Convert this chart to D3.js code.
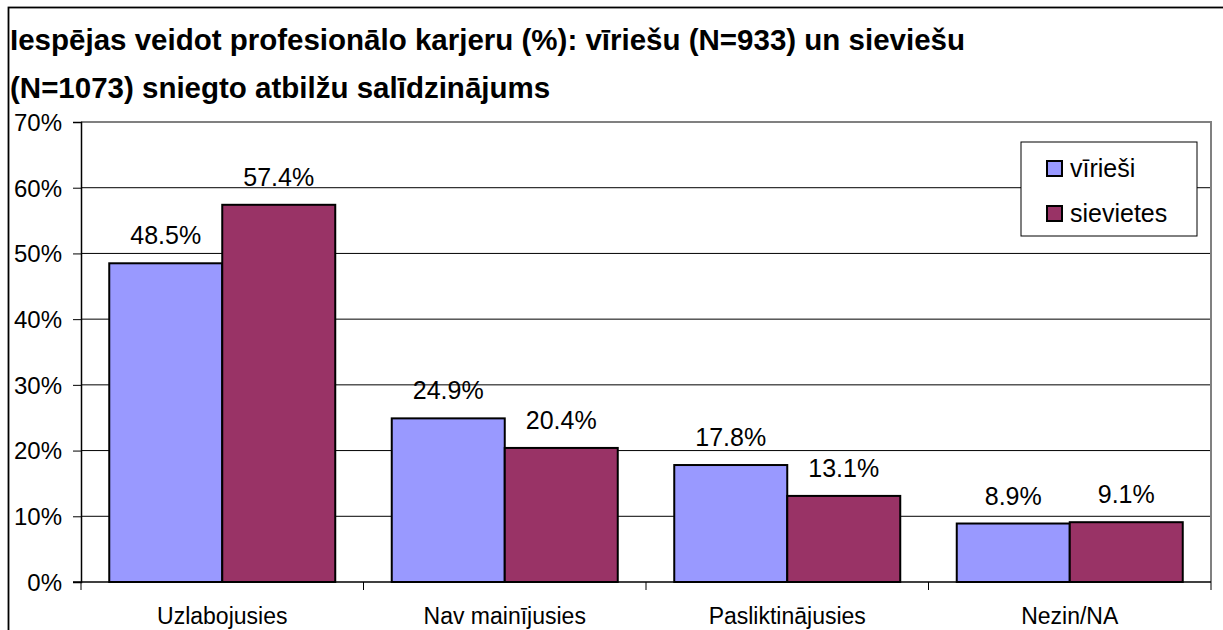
<!DOCTYPE html>
<html>
<head>
<meta charset="utf-8">
<script src="https://cdn.jsdelivr.net/npm/d3@7"></script>
<style>
  body { margin: 0; background: #fff; }
  svg text { font-family: "Liberation Sans", Arial, sans-serif; fill: #000; }
</style>
</head>
<body>
<div id="chart"></div>
<script>
// Iespējas veidot profesionālo karjeru — vīrieši vs sievietes
const categories = ["Uzlabojusies", "Nav mainījusies", "Pasliktinājusies", "Nezin/NA"];
const seriesNames = ["vīrieši", "sievietes"];
const men = [48.5, 24.9, 17.8, 8.9];
const women = [57.4, 20.4, 13.1, 9.1];
const yTicks = [0, 10, 20, 30, 40, 50, 60, 70];
const colors = ["#9999FF", "#993366"];

const W = 1223, H = 630;
const m = { left: 81, right: 1211, top: 122, bottom: 582 };

const svg = d3.select("#chart").append("svg").attr("width", W).attr("height", H);

// outer chart border
svg.append("rect").attr("x", 8.5).attr("y", 7.5).attr("width", W + 20).attr("height", H + 20)
  .attr("fill", "none").attr("stroke", "#000").attr("stroke-width", 1.8);

svg.append("text").attr("x", 10).attr("y", 50).attr("font-size", 29.5).attr("font-weight", "bold")
  .text("Iespējas veidot profesionālo karjeru (%): vīriešu (N=933) un sieviešu");
svg.append("text").attr("x", 10).attr("y", 98).attr("font-size", 29.5).attr("font-weight", "bold")
  .text("(N=1073) sniegto atbilžu salīdzinājums");

const x = d3.scaleBand().domain(categories).range([m.left, m.right]).paddingInner(0.2).paddingOuter(0.1);
const xb = d3.scaleBand().domain(categories).range([m.left, m.right]);
const xs = d3.scaleBand().domain(seriesNames).range([0, x.bandwidth()]);
const y = d3.scaleLinear().domain([0, 70]).range([m.bottom, m.top]);

// gridlines
svg.append("g").selectAll("line").data(yTicks.slice(1, -1)).join("line")
  .attr("x1", m.left).attr("x2", m.right).attr("y1", d => y(d)).attr("y2", d => y(d))
  .attr("stroke", "#000").attr("stroke-width", 1);

// plot area border (top/right gray)
svg.append("path").attr("d", `M${m.left},${m.top}H${m.right}V${m.bottom}`)
  .attr("fill", "none").attr("stroke", "#808080").attr("stroke-width", 2);

// y axis
const yAxis = svg.append("g").attr("transform", `translate(${m.left},0)`)
  .call(d3.axisLeft(y).tickValues(yTicks).tickFormat(d => d + "%").tickSize(8).tickPadding(11));
yAxis.select(".domain").attr("stroke", "#000").attr("stroke-width", 1.5);
yAxis.selectAll(".tick line").attr("stroke", "#000");
yAxis.selectAll("text").attr("font-size", 24).attr("dy", "0.35em");

// x axis with ticks at category boundaries
svg.append("line").attr("x1", m.left - 8).attr("x2", m.right).attr("y1", m.bottom).attr("y2", m.bottom)
  .attr("stroke", "#000").attr("stroke-width", 1.5);
svg.append("g").selectAll("line").data(categories).join("line")
  .attr("x1", d => xb(d) + xb.bandwidth()).attr("x2", d => xb(d) + xb.bandwidth())
  .attr("y1", m.bottom).attr("y2", m.bottom + 8).attr("stroke", "#000");
svg.append("line").attr("x1", m.left).attr("x2", m.left).attr("y1", m.bottom).attr("y2", m.bottom + 8)
  .attr("stroke", "#000");
svg.append("g").selectAll("text").data(categories).join("text")
  .attr("x", d => xb(d) + xb.bandwidth() / 2).attr("y", 624)
  .attr("text-anchor", "middle").attr("font-size", 23).text(d => d);

// bars
const rows = categories.map((c, i) => ({ c, vals: [men[i], women[i]] }));
const grp = svg.append("g").selectAll("g").data(rows).join("g")
  .attr("transform", d => `translate(${x(d.c)},0)`);
grp.selectAll("rect").data(d => d.vals.map((v, j) => ({ v, s: seriesNames[j], j }))).join("rect")
  .attr("x", d => xs(d.s)).attr("width", xs.bandwidth())
  .attr("y", d => y(d.v)).attr("height", d => y(0) - y(d.v))
  .attr("fill", d => colors[d.j]).attr("stroke", "#000").attr("stroke-width", 2);
grp.selectAll("text").data(d => d.vals.map((v, j) => ({ v, s: seriesNames[j] }))).join("text")
  .attr("x", d => xs(d.s) + xs.bandwidth() / 2).attr("y", d => y(d.v) - 19)
  .attr("text-anchor", "middle").attr("font-size", 25).text(d => d.v.toFixed(1) + "%");

// legend
const lg = svg.append("g");
lg.append("rect").attr("x", 1021).attr("y", 142).attr("width", 176).attr("height", 94)
  .attr("fill", "#fff").attr("stroke", "#000").attr("stroke-width", 1);
seriesNames.forEach((s, i) => {
  lg.append("rect").attr("x", 1047).attr("y", 161 + i * 45).attr("width", 15).attr("height", 15)
    .attr("fill", colors[i]).attr("stroke", "#000").attr("stroke-width", 2);
  lg.append("text").attr("x", 1070).attr("y", 177 + i * 45).attr("font-size", 25).text(s);
});
</script>
</body>
</html>
